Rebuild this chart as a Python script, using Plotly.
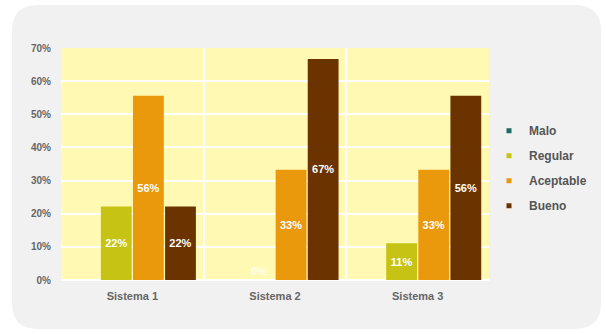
import plotly.graph_objects as go

categories = ["Sistema 1", "Sistema 2", "Sistema 3"]
series_names = ["Malo", "Regular", "Aceptable", "Bueno"]
malo = [0, 0, 0]
regular = [22.2, 0, 11.1]
aceptable = [55.6, 33.3, 33.3]
bueno = [22.2, 66.7, 55.6]
y_ticks = [0, 10, 20, 30, 40, 50, 60, 70]
y_tick_labels = ["0%", "10%", "20%", "30%", "40%", "50%", "60%", "70%"]

colors = ["#1d6b5f", "#c6c315", "#ea980c", "#6a3300"]
values = [malo, regular, aceptable, bueno]
show_text = [False, True, True, True]

FONT = "Liberation Sans"

fig = go.Figure()
for name, vals, col, st in zip(series_names, values, colors, show_text):
    if st:
        texts = [f"{round(v)}%" for v in vals]
        pos = ["inside" if v > 0 else "outside" for v in vals]
    else:
        texts = None
        pos = "none"
    fig.add_trace(go.Bar(
        x=categories, y=vals, name=name, marker=dict(color=col, line=dict(width=0)),
        text=texts, textposition=pos, insidetextanchor="middle",
        textfont=dict(color="white", size=11, family=FONT, weight="bold"),
        outsidetextfont=dict(color="rgba(255,255,255,0.85)", size=11, family=FONT, weight="bold"),
        cliponaxis=False, showlegend=False, textangle=0,
    ))

# legend entries with small square markers
for i, (name, col) in enumerate(zip(series_names, colors)):
    fig.add_trace(go.Scatter(
        x=[None], y=[None], mode="markers", name=name,
        marker=dict(symbol="square", size=5, color=col),
        legendgroup=name, showlegend=True,
    ))

# rounded grey panel (paper coords)
L, R, T, B = 61, 489, 48, 280
def px(x):
    return (x - L) / (R - L)
def py(y):
    return (B - y) / (B - T)
x0, x1, y0, y1 = px(12), px(601), py(5), py(329)
rx, ry = 26 / (R - L), 26 / (B - T)
path = (f"M {x0+rx},{y0} L {x1-rx},{y0} Q {x1},{y0} {x1},{y0-ry} "
        f"L {x1},{y1+ry} Q {x1},{y1} {x1-rx},{y1} L {x0+rx},{y1} "
        f"Q {x0},{y1} {x0},{y1+ry} L {x0},{y0-ry} Q {x0},{y0} {x0+rx},{y0} Z")
fig.add_shape(type="path", path=path, xref="paper", yref="paper",
              fillcolor="#f1f1f1", line=dict(width=0), layer="below")
# yellow plot area
fig.add_shape(type="rect", x0=0, x1=1, y0=0, y1=1, xref="paper", yref="paper",
              fillcolor="#fff9b4", line=dict(width=0), layer="below")

fig.update_layout(
    width=606, height=334,
    margin=dict(l=L, r=606 - R, t=T, b=334 - B),
    paper_bgcolor="white", plot_bgcolor="rgba(0,0,0,0)",
    barmode="group", bargap=0.1, bargroupgap=0.04,
    font=dict(family=FONT, color="#5a5a5a", size=11),
    legend=dict(x=1.0, y=0.706, xanchor="left", yanchor="top",
                bgcolor="rgba(0,0,0,0)", tracegroupgap=6,
                traceorder="grouped", itemwidth=30,
                font=dict(size=12, color="#555555", family=FONT, weight="bold")),
    xaxis=dict(showgrid=True, gridcolor="white", gridwidth=2, tickson="boundaries",
               ticks="", showline=False, zeroline=False, ticklabelstandoff=8,
               tickfont=dict(size=11, color="#666666", family=FONT, weight="bold")),
    yaxis=dict(range=[0, 70], tickvals=y_ticks, ticktext=y_tick_labels,
               showgrid=True, gridcolor="white", gridwidth=2, zeroline=True,
               zerolinecolor="white", zerolinewidth=2, ticks="", showline=False,
               ticklabelstandoff=9,
               tickfont=dict(size=10, color="#666666", family=FONT, weight="bold")),
)

fig.write_html("out.html", config={"displayModeBar": False},
               post_script="document.body.style.margin='0';")
